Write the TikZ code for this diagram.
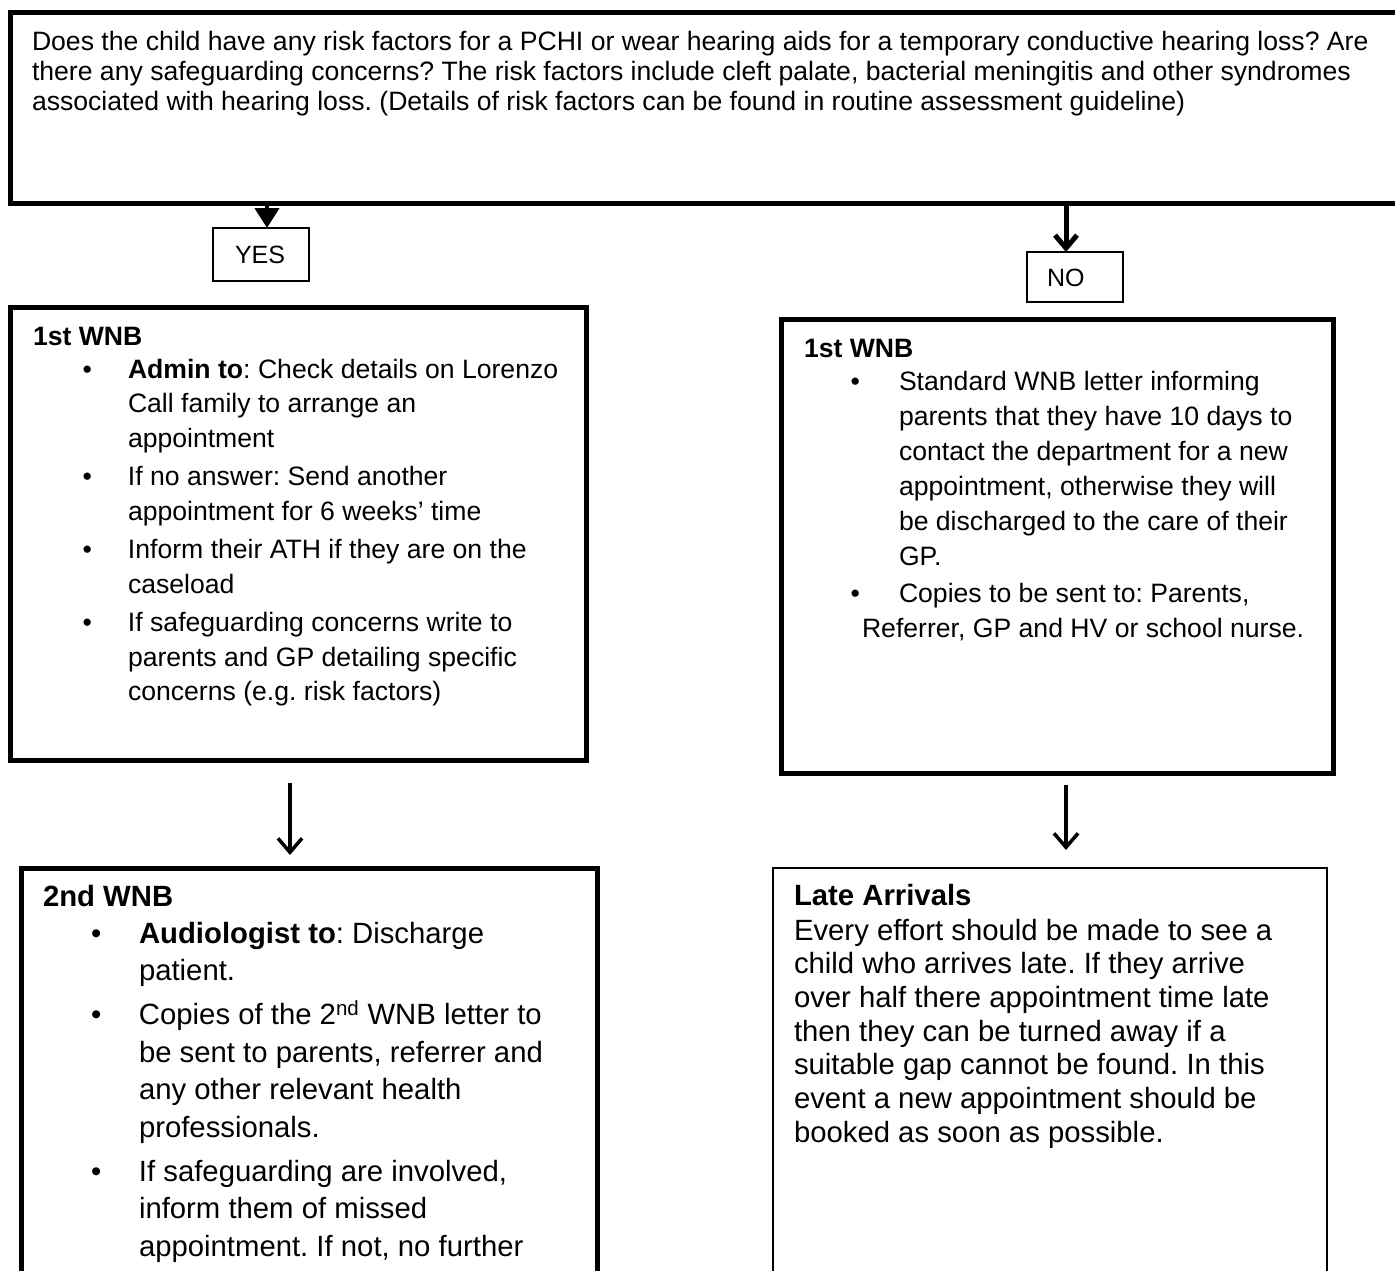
\documentclass[tikz,border=0pt]{standalone}
\usepackage{fontspec}
\setmainfont{Liberation Sans}
\usetikzlibrary{arrows.meta}
\frenchspacing
\newlength\bxd
\newlength\txd
\newcommand{\hdl}[1]{\noindent\textbf{#1}\par}
\newcommand{\bul}[1]{\noindent\hbox to 0pt{\hskip\bxd\textbullet\hss}\hskip\txd #1\par}
\newcommand{\cnt}[1]{\noindent\hskip\txd #1\par}
\newcommand{\pln}[1]{\noindent #1\par}
\begin{document}
\begin{tikzpicture}[x=1pt,y=-1pt,
  frame/.style={draw=black, line width=5pt, rectangle, outer sep=0pt, inner sep=0pt, anchor=north west},
  lightframe/.style={draw=black, line width=2pt, rectangle, outer sep=0pt, inner sep=0pt, anchor=north west},
  tagbox/.style={draw=black, line width=1.5pt, rectangle, outer sep=0pt, inner sep=0pt, anchor=north west},
  txt/.style={anchor=base west, inner sep=0pt, outer sep=0pt},
  tagtxt/.style={anchor=base west, inner sep=0pt, outer sep=0pt, font=\fontsize{25pt}{30pt}\selectfont},
  yesarrow/.style={line width=4.5pt, -{Triangle[length=20pt,width=24pt]}},
  noarrow/.style={line width=5pt, -{Straight Barb[length=13pt,width=22pt]}},
  midarrow/.style={line width=3.5pt, -{Straight Barb[length=14pt,width=24pt]}}]
\useasboundingbox (0,0) rectangle (1395,1270);

% question box
\node[frame, minimum width=1410pt, minimum height=191pt] (q) at (10,12) {};
\node[txt] (qt) at (32,50) {\vtop{\hsize=1380pt\parskip=0pt\fontsize{26.6pt}{30pt}\selectfont
\pln{Does the child have any risk factors for a PCHI or wear hearing aids for a temporary conductive hearing loss? Are}
\pln{there any safeguarding concerns? The risk factors include cleft palate, bacterial meningitis and other syndromes}
\pln{associated with hearing loss. (Details of risk factors can be found in routine assessment guideline)}}};

% YES / NO
\node[tagbox, minimum width=96pt, minimum height=53pt] (yes) at (213,228) {};
\node[tagtxt] (yest) at (235,263) {YES};
\node[tagbox, minimum width=96pt, minimum height=50pt] (no) at (1027,252) {};
\node[tagtxt] (not) at (1047,286) {NO};

% boxes
\node[frame, minimum width=576pt, minimum height=453pt] (a1) at (10,307) {};
\node[frame, minimum width=552pt, minimum height=454pt] (b1) at (781,319) {};
\node[frame, minimum width=576pt, minimum height=440pt] (a2) at (21,868) {};
\node[lightframe, minimum width=554pt, minimum height=440pt] (b2) at (773,868) {};

% left 1st WNB
\node[txt] (a1t) at (33,345) {\vtop{\hsize=560pt\parskip=0pt\fontsize{26.6pt}{34.5pt}\selectfont\bxd=49.5pt\txd=95pt
\hdl{1st WNB}\vskip-1.5pt
\bul{\textbf{Admin to}: Check details on Lorenzo}
\cnt{Call family to arrange an}
\cnt{appointment}\vskip4pt
\bul{If no answer: Send another}
\cnt{appointment for 6 weeks’ time}\vskip4pt
\bul{Inform their ATH if they are on the}
\cnt{caseload}\vskip4pt
\bul{If safeguarding concerns write to}
\cnt{parents and GP detailing specific}
\cnt{concerns (e.g. risk factors)}}};

% right 1st WNB
\node[txt] (b1t) at (804,357) {\vtop{\hsize=540pt\parskip=0pt\fontsize{26.6pt}{35pt}\selectfont\bxd=46.5pt\txd=95pt
\hdl{1st WNB}\vskip-2pt
\bul{Standard WNB letter informing}
\cnt{parents that they have 10 days to}
\cnt{contact the department for a new}
\cnt{appointment, otherwise they will}
\cnt{be discharged to the care of their}
\cnt{GP.}\vskip2pt
\bul{Copies to be sent to: Parents,}
\noindent\hskip58pt Referrer, GP and HV or school nurse.\par}};

% 2nd WNB
\node[txt] (a2t) at (43,906) {\vtop{\hsize=560pt\parskip=0pt\fontsize{29.3pt}{37.7pt}\selectfont\bxd=48pt\txd=96pt
\hdl{2nd WNB}\vskip-0.7pt
\bul{\textbf{Audiologist to}: Discharge}
\cnt{patient.}\vskip6pt
\bul{Copies of the 2\textsuperscript{nd} WNB letter to}
\cnt{be sent to parents, referrer and}
\cnt{any other relevant health}
\cnt{professionals.}\vskip6pt
\bul{If safeguarding are involved,}
\cnt{inform them of missed}
\cnt{appointment. If not, no further}}};

% Late arrivals
\node[txt] (b2t) at (794,905) {\vtop{\hsize=540pt\parskip=0pt\fontsize{29.3pt}{33.7pt}\selectfont
\hdl{Late Arrivals}\vskip1.3pt
\pln{Every effort should be made to see a}
\pln{child who arrives late. If they arrive}
\pln{over half there appointment time late}
\pln{then they can be turned away if a}
\pln{suitable gap cannot be found. In this}
\pln{event a new appointment should be}
\pln{booked as soon as possible.}}};

% connectors
\coordinate (xy) at (267,0);
\coordinate (xn) at (1066,0);
\coordinate (xl) at (290,0);
\draw[yesarrow] (q.south -| xy) -- (yes.north -| xy);
\draw[noarrow] (q.south -| xn) -- (no.north -| xn);
\draw[midarrow, shorten <=23pt, shorten >=13pt] (a1.south -| xl) -- (a2.north -| xl);
\draw[midarrow, shorten <=12pt, shorten >=18pt] (b1.south -| xn) -- (b2.north -| xn);
\end{tikzpicture}
\end{document}
